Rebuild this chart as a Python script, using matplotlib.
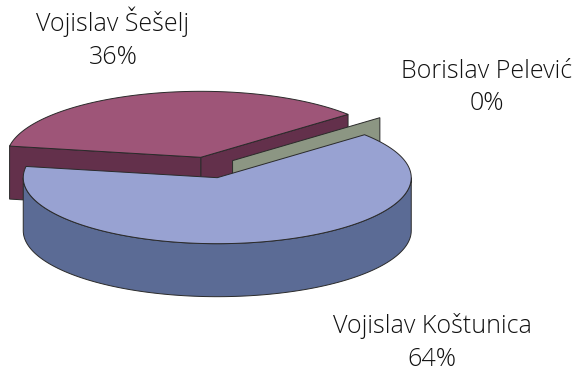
import numpy as np
import matplotlib
matplotlib.use("Agg")
import matplotlib.pyplot as plt
from matplotlib.patches import Polygon

# election results
names = ["Vojislav Koštunica", "Vojislav Šešelj", "Borislav Pelević"]
values = [64, 36, 0]
pct_labels = ["64%", "36%", "0%"]

top_colors = ["#98A2D2", "#9E5578", "#8C9683"]
side_colors = ["#5B6B95", "#63304B", "#8C9683"]

# pie geometry in pixel coordinates
cx, cy = 209.0, 167.5
rx, ry = 194.0, 66.0
depth = 53.0
explode = 0.16
start = 40.6

fig = plt.figure(figsize=(5.75, 3.68), dpi=100)
ax = fig.add_axes([0, 0, 1, 1])
ax.set_xlim(0, 575)
ax.set_ylim(368, 0)
ax.axis("off")


def pt(c, t, dz=0.0):
    return (c[0] + rx * np.cos(np.radians(t)), c[1] - ry * np.sin(np.radians(t)) + dz)


# angle ranges, clockwise from the start angle
total = float(sum(values))
slices = []
t = start
for i, v in enumerate(values):
    sweep = 360.0 * v / total
    t1, t2 = t - sweep, t
    m = np.radians((t1 + t2) / 2)
    c = (cx + explode * rx * np.cos(m), cy - explode * ry * np.sin(m))
    slices.append((i, t1, t2, c, np.sin(m)))
    t = t1

ec = "#2a2a2a"
lw = 0.7
# back slices first
for i, t1, t2, c, s in sorted(slices, key=lambda q: -q[4]):
    # radial faces
    for j, (tt, nrm) in enumerate(((t1, t1 - 90), (t2, t2 + 90))):
        if t1 == t2 and j == 1:
            continue
        if np.sin(np.radians(nrm)) < 0:
            p0 = (c[0], c[1])
            p1 = pt(c, tt)
            quad = [p0, p1, (p1[0], p1[1] + depth), (p0[0], p0[1] + depth)]
            ax.add_patch(Polygon(quad, closed=True, fc=side_colors[i], ec=ec, lw=lw))
    # curved outer wall, front half only
    for k in range(-1, 2):
        lo = max(t1, 180 + 360 * k)
        hi = min(t2, 360 + 360 * k)
        if hi > lo:
            ts = np.linspace(lo, hi, 120)
            upper = [pt(c, a) for a in ts]
            lower = [pt(c, a, depth) for a in ts[::-1]]
            ax.add_patch(Polygon(upper + lower, closed=True, fc=side_colors[i], ec=ec, lw=lw))
    # top face
    if t2 > t1:
        ts = np.linspace(t1, t2, 200)
        poly = [(c[0], c[1])] + [pt(c, a) for a in ts]
        ax.add_patch(Polygon(poly, closed=True, fc=top_colors[i], ec=ec, lw=lw))

# data labels
label_pos = [(432, 326, 359), (113, 22, 57), (487, 71, 103)]
font = dict(family=["Open Sans", "DejaVu Sans"], fontsize=18, color="#111111",
            ha="center", va="center", fontweight="light")
for i, (x, y1, y2) in enumerate(label_pos):
    ax.text(x, y1, names[i], **font)
    ax.text(x, y2, pct_labels[i], **font)

fig.savefig("out.png", dpi=100)
